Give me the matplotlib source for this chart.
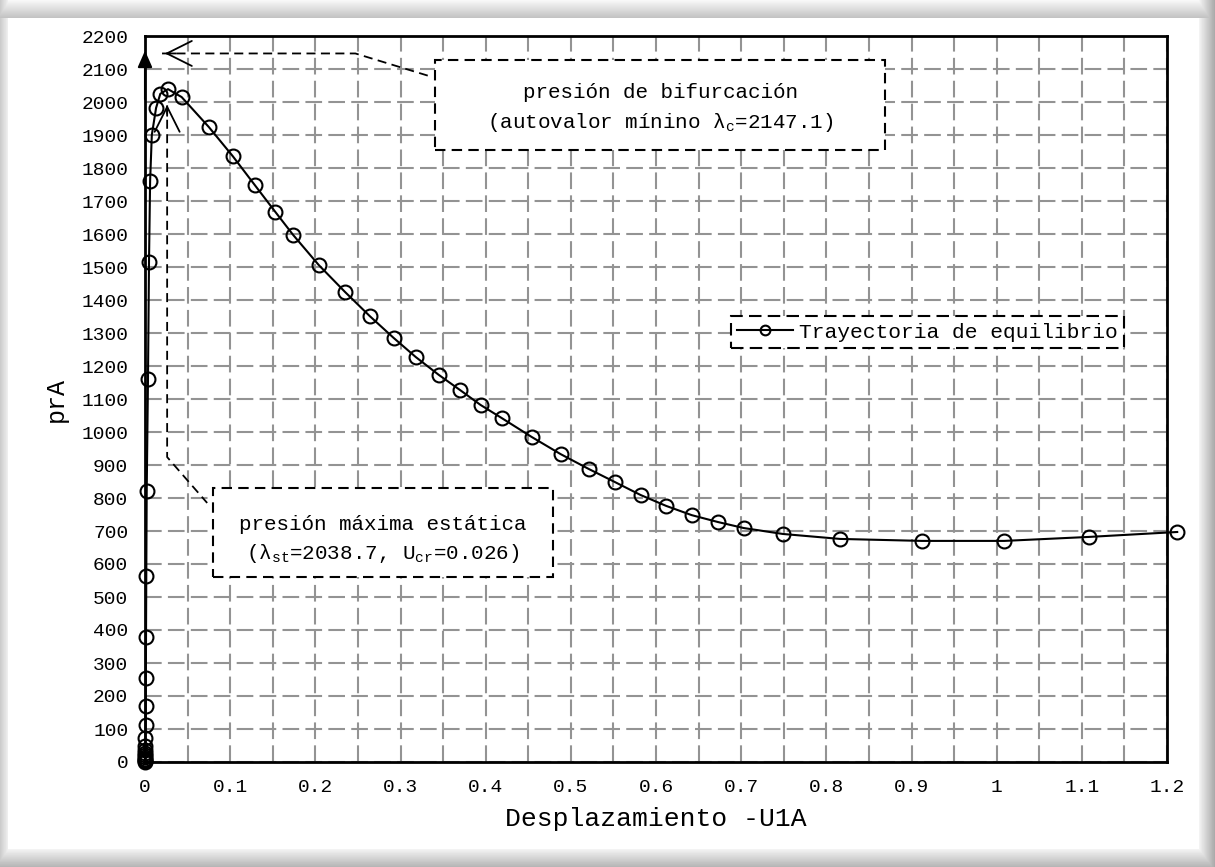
import matplotlib
matplotlib.use('Agg')
import numpy as np
import matplotlib.pyplot as plt
from matplotlib.patches import Rectangle

# equilibrium path
disp = [0, 0, 0, 0, 0.0001, 0.0001, 0.0002, 0.0003, 0.0004, 0.0005, 0.0007,
        0.0009, 0.0010, 0.0012, 0.0015, 0.0020, 0.0035, 0.0047, 0.006, 0.008,
        0.013, 0.018, 0.027, 0.043, 0.075, 0.103, 0.129, 0.153, 0.174, 0.204,
        0.235, 0.264, 0.292, 0.318, 0.345, 0.370, 0.394, 0.419, 0.454, 0.488,
        0.521, 0.552, 0.582, 0.612, 0.642, 0.673, 0.703, 0.749, 0.816, 0.912,
        1.009, 1.108, 1.212]
pres = [0, 2, 5, 9, 14, 20, 28, 36, 48, 73, 112, 170, 255, 380, 563, 820,
        1160, 1515, 1760, 1900, 1982, 2025, 2039, 2015, 1924, 1836, 1748, 1667,
        1597, 1506, 1424, 1351, 1285, 1227, 1173, 1127, 1082, 1042, 985, 933,
        888, 848, 809, 776, 748, 727, 709, 691, 676, 670, 670, 682, 697]

xticks = [0, 0.1, 0.2, 0.3, 0.4, 0.5, 0.6, 0.7, 0.8, 0.9, 1.0, 1.1, 1.2]
xtick_labels = ['0', '0.1', '0.2', '0.3', '0.4', '0.5', '0.6', '0.7', '0.8',
                '0.9', '1', '1.1', '1.2']
yticks = list(range(0, 2201, 100))

lam_c = 2147.1
lam_st = 2038.7
u_cr = 0.026

plt.rcParams['font.family'] = ['Liberation Mono', 'DejaVu Sans']
plt.rcParams['mathtext.fontset'] = 'custom'
plt.rcParams['mathtext.rm'] = 'Liberation Mono'

W, H = 1215, 867
fig = plt.figure(figsize=(W / 100, H / 100), dpi=100)

# light grey drop-shadow frame round the picture
rows, cols = np.mgrid[0:H, 0:W]
shade = np.ones((H, W))
shade = np.minimum(shade, np.where(rows < 18, 0.97 - 0.22 * rows / 18, 1))
shade = np.minimum(shade, np.where(cols < 8, 0.8 + 0.15 * cols / 8, 1))
shade = np.minimum(shade, np.where(cols >= 1199, 0.95 - 0.3 * (cols - 1199) / 16, 1))
shade = np.minimum(shade, np.where(rows >= 849, 0.95 - 0.25 * (rows - 849) / 18, 1))
bg = fig.add_axes([0, 0, 1, 1])
bg.imshow(shade, cmap='gray', vmin=0, vmax=1, aspect='auto')
bg.axis('off')

ax = fig.add_axes([145 / W, 1 - 762 / H, 1022 / W, 726 / H])
ax.set_xlim(0, 1.2)
ax.set_ylim(0, 2200)
ax.set_xticks(xticks)
ax.set_xticklabels(xtick_labels)
ax.set_xticks(np.arange(0, 1.201, 0.05), minor=True)
ax.set_yticks(yticks)
ax.tick_params(which='both', length=0, pad=12, labelsize=14)
ax.set_axisbelow(True)
gridstyle = dict(color='#939393', lw=1.5, ls=(0, (8, 3)))
ax.grid(which='both', axis='x', **gridstyle)
ax.grid(which='major', axis='y', **gridstyle)
for s in ax.spines.values():
    s.set_linewidth(2)

ax.plot(disp, pres, '-o', color='k', lw=1.5, ms=10, mfc='none', mew=1.5,
        label='Trayectoria de equilibrio', clip_on=False, zorder=3)

ax.set_xlabel('Desplazamiento -U1A', fontsize=19, labelpad=8)
ax.set_ylabel('prA', fontsize=18, labelpad=10)

dash = (0, (5, 3))

# bifurcation: arrow up the axis and callout
ax.annotate('', xy=(0, 2164), xytext=(0, 2000),
            arrowprops=dict(arrowstyle='-|>,head_length=0.5,head_width=0.22',
                            color='k', lw=1.5, mutation_scale=20), zorder=6)
ax.plot([0.020, 0.247, 0.337], [lam_c, lam_c, 2076], color='k', ls=dash,
        lw=1.3, zorder=4)
ax.annotate('', xy=(0.020, lam_c), xytext=(12, 0), textcoords='offset points',
            arrowprops=dict(arrowstyle='->,head_length=0.9,head_width=0.45',
                            color='k', lw=1.3, mutation_scale=20), zorder=6)
ax.add_patch(Rectangle((0.3405, 1855), 0.5285, 272, fc='white', ec='k',
                       ls=dash, lw=1.5, zorder=4))
ax.text(0.605, 2030, 'presión de bifurcación', ha='center', va='center',
        fontsize=15, zorder=5)
ax.text(0.605, 1939, '(autovalor mínino λ$_\\mathrm{c}$=%.1f)' % lam_c,
        ha='center', va='center', fontsize=15, zorder=5)

# static maximum callout
ax.plot([0.026, 0.026, 0.073], [1990, 924, 785], color='k', ls=dash,
        lw=1.3, zorder=4)
ax.annotate('', xy=(0.026, 2000), xytext=(0, -12), textcoords='offset points',
            arrowprops=dict(arrowstyle='->,head_length=0.9,head_width=0.45',
                            color='k', lw=1.3, mutation_scale=20), zorder=6)
ax.add_patch(Rectangle((0.080, 561), 0.399, 269, fc='white', ec='k',
                       ls=dash, lw=1.5, zorder=4))
ax.text(0.279, 721, 'presión máxima estática', ha='center', va='center',
        fontsize=15, zorder=5)
ax.text(0.279, 633, '(λ$_\\mathrm{st}$=%.1f, U$_\\mathrm{cr}$=%.3f)' % (lam_st, u_cr),
        ha='center', va='center', fontsize=15, zorder=5)

leg = ax.legend(loc='upper right', bbox_to_anchor=(0.958, 0.614), fontsize=15.3,
                fancybox=False, edgecolor='k', framealpha=1, handlelength=2.6,
                handletextpad=0.3, borderpad=0.3, borderaxespad=0,
                markerscale=0.7)
leg.get_frame().set_linestyle((0, (6, 3)))
leg.get_frame().set_linewidth(1.5)
leg.set_zorder(7)

fig.savefig('out.png', dpi=100)
